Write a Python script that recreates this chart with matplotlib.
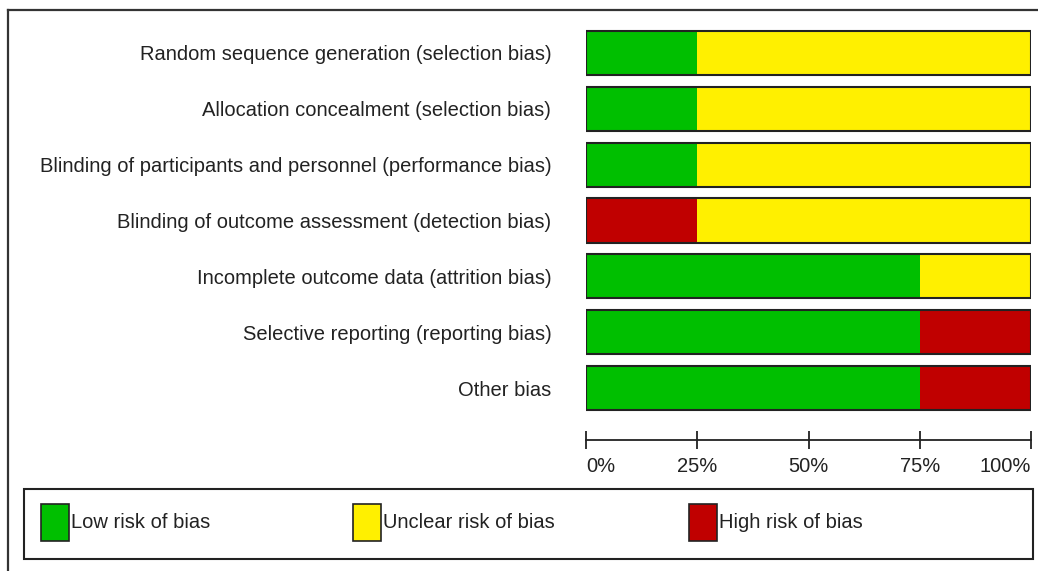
import matplotlib.pyplot as plt
from matplotlib.patches import Rectangle
from matplotlib.lines import Line2D
import numpy as np

domains = ['Random sequence generation (selection bias)',
           'Allocation concealment (selection bias)',
           'Blinding of participants and personnel (performance bias)',
           'Blinding of outcome assessment (detection bias)',
           'Incomplete outcome data (attrition bias)',
           'Selective reporting (reporting bias)',
           'Other bias']
low = [25, 25, 25, 0, 75, 75, 75]
unclear = [75, 75, 75, 75, 25, 0, 0]
high = [0, 0, 0, 25, 0, 25, 25]

cats = ['Low risk of bias', 'Unclear risk of bias', 'High risk of bias']
colors = ['#00bf00', '#fff000', '#c00000']
ticks = [0, 25, 50, 75, 100]

W, H = 1038, 571
fig = plt.figure(figsize=(W / 100, H / 100), dpi=100)
plt.rcParams['font.family'] = ['Liberation Sans', 'DejaVu Sans']

def fx(px):
    return px / W

def fy(py):
    return 1 - py / H

ax = fig.add_axes([fx(586), fy(416), fx(1031) - fx(586), fy(25) - fy(416)])
y = np.arange(len(domains))
left = np.zeros(len(domains))
# stacked as low, high, unclear (as in the picture)
for vals, c in zip([low, high, unclear], [colors[0], colors[2], colors[1]]):
    v = np.array(vals, dtype=float)
    ax.barh(y, v, left=left, height=0.79, color=c, edgecolor='none')
    left += v
# outline around each whole bar
ax.barh(y, left, height=0.79, color='none', edgecolor='#222222', linewidth=1.5)

ax.set_xlim(0, 100)
ax.set_ylim(len(domains) - 0.5, -0.5)
ax.set_yticks(y)
ax.set_yticklabels(domains)
ax.tick_params(axis='y', length=0, pad=25, labelsize=14.5, labelcolor='#222222')
ax.set_xticks(ticks)
ax.set_xticklabels([f'{t}%' for t in ticks])
ax.tick_params(axis='x', direction='inout', length=13, width=1.3, pad=6,
               color='#222222', labelsize=14.5, labelcolor='#222222')
for s in ['top', 'right', 'left']:
    ax.spines[s].set_visible(False)
ax.spines['bottom'].set_position(('outward', 17))
ax.spines['bottom'].set_linewidth(1.3)
ax.spines['bottom'].set_color('#222222')

fig.canvas.draw()
xt = ax.xaxis.get_major_ticks()
xt[0].label1.set_horizontalalignment('left')
xt[-1].label1.set_horizontalalignment('right')

# outer frame lines
fig.add_artist(Line2D([fx(8), fx(8)], [fy(10), 0], transform=fig.transFigure, color='#333333', lw=1.6))
fig.add_artist(Line2D([fx(8), 1], [fy(10), fy(10)], transform=fig.transFigure, color='#333333', lw=1.6))

# legend box
fig.add_artist(Rectangle((fx(24), fy(559)), fx(1033) - fx(24), fy(489) - fy(559),
                         transform=fig.transFigure, facecolor='white', edgecolor='#222222', lw=1.5))
for name, c, px in zip(cats, colors, [41, 353, 689]):
    fig.add_artist(Rectangle((fx(px), fy(541)), fx(28), fy(504) - fy(541),
                             transform=fig.transFigure, facecolor=c, edgecolor='#222222', lw=1.2))
    fig.text(fx(px + 30), fy(522), name, fontsize=14.5, color='#222222', va='center', ha='left')

fig.savefig('out.png', dpi=100)
